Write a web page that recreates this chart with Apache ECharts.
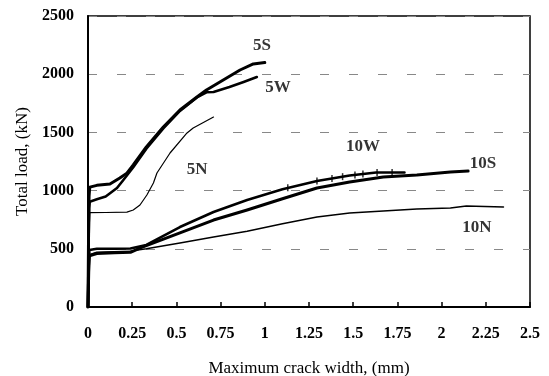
<!DOCTYPE html>
<html>
<head>
<meta charset="utf-8">
<script src="https://cdn.jsdelivr.net/npm/echarts@6/dist/echarts.min.js"></script>
<style>html,body{margin:0;padding:0;background:#fff;}#c{width:549px;height:376px;}</style>
</head>
<body>
<div id="c"></div>
<script>
// Data: [crack width (mm), total load (kN)]
const s5S = [[0,0],[0.003,600],[0.006,950],[0.01,1030],[0.05,1045],[0.124,1057],[0.18,1108],[0.22,1150],[0.256,1220],[0.33,1375],[0.426,1546],[0.52,1692],[0.616,1804],[0.67,1864],[0.765,1950],[0.86,2036],[0.935,2088],[1.0,2100]];
const s5W = [[0,0],[0.003,500],[0.006,850],[0.01,905],[0.05,925],[0.1,950],[0.164,1022],[0.2,1091],[0.256,1200],[0.33,1360],[0.426,1535],[0.52,1685],[0.616,1800],[0.67,1845],[0.71,1847],[0.8,1890],[0.88,1933],[0.955,1976]];
const s5N = [[0,0],[0.005,600],[0.01,810],[0.1,812],[0.22,815],[0.256,833],[0.294,876],[0.333,962],[0.37,1065],[0.39,1151],[0.464,1323],[0.56,1495],[0.595,1538],[0.71,1632]];
const s10W = [[0,0],[0.004,350],[0.008,490],[0.05,500],[0.15,500],[0.24,502],[0.33,533],[0.52,687],[0.71,816],[0.9,919],[1.1,1012],[1.295,1082],[1.48,1130],[1.63,1155],[1.79,1155]];
const s10S = [[0,0],[0.004,300],[0.008,440],[0.05,460],[0.15,465],[0.24,470],[0.3,510],[0.52,636],[0.71,747],[0.9,833],[1.1,930],[1.295,1022],[1.48,1074],[1.67,1117],[1.86,1134],[2.05,1160],[2.15,1168]];
const s10N = [[0,0],[0.004,300],[0.008,450],[0.05,470],[0.15,475],[0.24,480],[0.33,500],[0.52,550],[0.71,601],[0.9,650],[1.1,715],[1.295,773],[1.48,808],[1.67,825],[1.86,842],[2.05,850],[2.14,868],[2.35,860]];
// small tick markers seen along the 10W curve
const m10W = [[1.13,1025],[1.295,1082],[1.38,1105],[1.44,1120],[1.51,1135],[1.555,1143],[1.635,1155],[1.72,1155]];
const seriesNames = ['5S','5W','5N','10W','10S','10N'];
const xTicks = [0,0.25,0.5,0.75,1,1.25,1.5,1.75,2,2.25,2.5];
const yTicks = [0,500,1000,1500,2000,2500];
// curve label anchor points (data coordinates)
const labelPts = [[0.984,2242],[1.075,1881],[0.617,1177],[1.555,1375],[2.234,1229],[2.2,679]];

const serif = 'Liberation Serif, Times New Roman, serif';
const datasets = [s5S, s5W, s5N, s10W, s10S, s10N];
const widths = [3, 2.6, 1.2, 2.6, 3, 1.5];

const series = datasets.map((d, i) => ({
  name: seriesNames[i], type: 'line', data: d, showSymbol: false, smooth: false,
  lineStyle: {color: '#000', width: widths[i], join: 'round', cap: 'round'}, silent: true
}));
series.push({
  type: 'scatter', data: m10W, symbol: 'rect', symbolSize: [1.5, 7],
  itemStyle: {color: '#000'}, silent: true
});
series.push({
  type: 'scatter', symbolSize: 1, itemStyle: {color: 'rgba(0,0,0,0)'},
  data: labelPts.map((p, i) => ({value: p, name: seriesNames[i]})),
  label: {show: true, position: 'inside', formatter: p => p.name, color: '#000',
    fontFamily: serif, fontWeight: 'bold', fontSize: 17}
});

const chart = echarts.init(document.getElementById('c'), null, {renderer: 'canvas'});
chart.setOption({
  animation: false,
  backgroundColor: '#fff',
  grid: {left: 88, right: 19, top: 16, bottom: 69, containLabel: false, outerBoundsMode: 'none',
    show: true, borderColor: '#000', borderWidth: 1.5},
  xAxis: {
    type: 'value', min: xTicks[0], max: xTicks[xTicks.length-1], interval: 0.25,
    name: 'Maximum crack width, (mm)', nameLocation: 'middle', nameGap: 53,
    nameTextStyle: {fontFamily: serif, fontSize: 17, color: '#000'},
    axisLine: {lineStyle: {color: '#000', width: 2}},
    axisTick: {show: true, inside: true, length: 5, lineStyle: {color: '#000', width: 1.5}},
    axisLabel: {fontFamily: serif, fontWeight: 'bold', fontSize: 16, color: '#000', margin: 19,
      formatter: v => String(v)},
    splitLine: {show: false}
  },
  yAxis: {
    type: 'value', min: yTicks[0], max: yTicks[yTicks.length-1], interval: 500,
    name: 'Total load, (kN)', nameLocation: 'middle', nameGap: 55,
    nameTextStyle: {fontFamily: serif, fontSize: 17, color: '#000'},
    axisLine: {show: true, lineStyle: {color: '#000', width: 2}},
    axisTick: {show: false},
    axisLabel: {fontFamily: serif, fontWeight: 'bold', fontSize: 16, color: '#000', margin: 14,
      formatter: v => String(v)},
    splitLine: {show: true, lineStyle: {color: '#888', width: 1, type: [9, 20]}}
  },
  series: series
});
</script>
</body>
</html>
